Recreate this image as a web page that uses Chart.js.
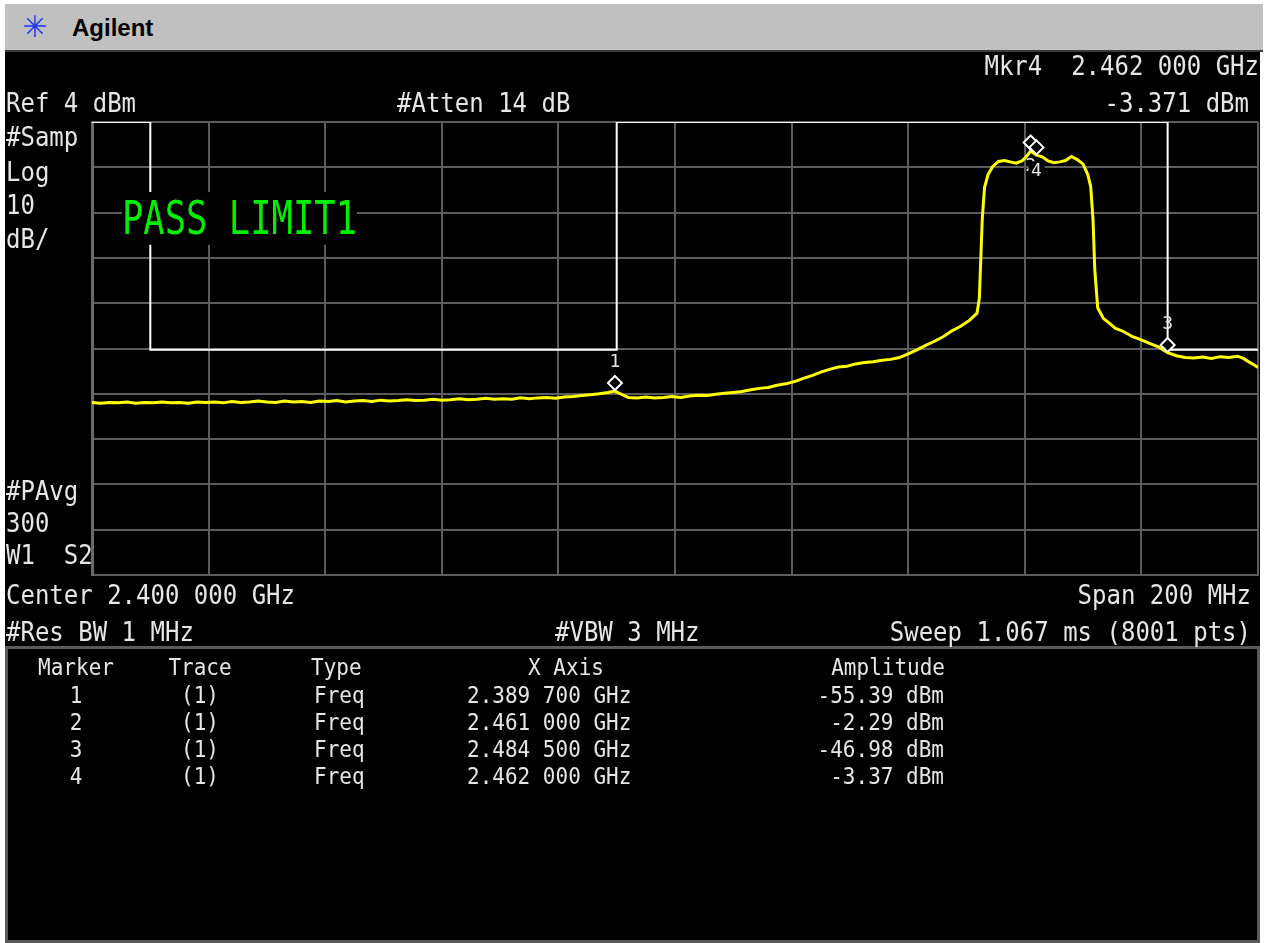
<!DOCTYPE html>
<html>
<head>
<meta charset="utf-8">
<script src="https://cdn.jsdelivr.net/npm/chart.js@4.4.1/dist/chart.umd.min.js"></script>
<style>
body{margin:0;background:#fff;width:1268px;height:943px;overflow:hidden;position:relative;font-family:"DejaVu Sans Mono",monospace;}
#head{position:absolute;left:5px;top:4px;width:1258px;height:46px;background:#c0c0c0;border-bottom:2px solid #3a3a3a;}
#logo{position:absolute;left:17px;top:6px;font-family:"DejaVu Sans";font-size:30px;line-height:34px;color:#1f3df0;}
#brand{position:absolute;left:67px;top:9px;font-family:"Liberation Sans",Arial,sans-serif;font-weight:bold;font-size:24px;line-height:30px;color:#000;}
#screen{position:absolute;left:5px;top:52px;width:1255px;height:891px;background:#000;}
#tbl{position:absolute;left:5px;top:646px;width:1249px;height:291px;border:3px solid #5a5a5a;}
#chart{position:absolute;left:0;top:0;}
.t{position:absolute;color:#e6e6e6;font-size:24px;line-height:28px;white-space:pre;transform:scaleY(1.1);}
.s{position:absolute;color:#e6e6e6;font-size:21px;line-height:26px;white-space:pre;transform:scaleY(1.08);}
#pass{position:absolute;left:122px;top:192px;height:40px;line-height:40px;font-size:35.5px;color:#00f000;background:#000;white-space:pre;transform-origin:top left;transform:scaleY(1.32);}
</style>
</head>
<body>
<div id="head"><div id="logo">✳</div><div id="brand">Agilent</div></div>
<div id="screen"></div>
<div id="tbl"></div>
<canvas id="chart" width="1268" height="943"></canvas>
<div id="pass">PASS LIMIT1</div>
<div id="labels"></div>
<script>
// analyzer settings
var refLevel = 4;      // dBm
var dbPerDiv = 10;
var centerMHz = 2400;
var spanMHz = 200;

// trace 1
var freqMHz = [2300,2301.5,2303,2304.5,2306,2307.5,2309,2310.5,2312,2313.5,2315,2316.5,2318,2319.5,2321,2322.5,2324,2325.5,2327,2328.5,
  2330,2331.5,2333,2334.5,2336,2337.5,2339,2340.5,2342,2343.5,2345,2346.5,2348,2349.5,2351,2352.5,2354,2355.5,2357,2358.5,
  2360,2361.5,2363,2364.5,2366,2367.5,2369,2370.5,2372,2373.5,2375,2376.5,2378,2379.5,2381,2382.5,2384,2385.5,2387,2388.5,
  2389.7,2390.8,2392,2393.5,2395,2396.5,2398,2399.5,2401,2402.5,2404,2405.5,2407,2408.5,2410,2411.5,2413,2414.5,2416,2417.5,
  2419,2420.5,2422,2423.5,2425,2426.5,2428,2429.5,2431,2432.5,2434,2435.5,2437,2438.5,2440,2441.5,2443,2444.5,2446,2447.5,
  2449,2450.5,2451.8,2452.2,2452.4,2452.7,2453.1,2453.7,2454.5,2455.5,2456.5,2457.5,2458.5,2459.5,2460.3,2461,2462,2463,2464,2465,
  2466,2467,2468,2469,2470,2470.8,2471.3,2471.7,2472,2472.5,2473.5,2474.5,2475.5,2477,2478.5,2480,2481.5,2483,2484.5,2486,
  2487.5,2489,2490.5,2492,2493.5,2495,2496.5,2497.5,2498.5,2499.3,2500];
var traceDbm = [-57.9,-58.1,-57.9,-58.0,-57.8,-58.1,-57.9,-58.0,-57.8,-58.0,-57.9,-58.1,-57.8,-57.9,-57.8,-58.0,-57.7,-57.9,-57.8,-57.6,
  -57.8,-57.9,-57.6,-57.8,-57.7,-57.9,-57.6,-57.7,-57.5,-57.8,-57.6,-57.5,-57.7,-57.4,-57.6,-57.5,-57.3,-57.5,-57.4,-57.2,
  -57.4,-57.3,-57.1,-57.3,-57.2,-57.0,-57.2,-57.1,-57.2,-56.9,-57.1,-56.9,-56.8,-57.0,-56.7,-56.6,-56.4,-56.2,-56.0,-55.7,
  -55.4,-56.1,-56.8,-56.9,-56.7,-56.9,-56.8,-56.6,-56.8,-56.5,-56.3,-56.4,-56.1,-55.9,-55.7,-55.5,-55.1,-54.8,-54.6,-54.1,
  -53.8,-53.3,-52.6,-52.0,-51.2,-50.6,-50.1,-49.9,-49.4,-49.1,-48.9,-48.6,-48.4,-48.0,-47.2,-46.3,-45.3,-44.4,-43.4,-42.1,
  -41.1,-39.8,-38.2,-35.0,-28.0,-17.5,-10.4,-7.6,-5.8,-4.7,-4.5,-4.8,-5.1,-4.6,-3.6,-2.4,-3.3,-3.7,-4.6,-5.0,
  -4.8,-4.5,-3.6,-4.3,-5.3,-7.6,-10.2,-17.5,-28.5,-37.0,-39.4,-40.4,-41.5,-42.3,-43.4,-44.1,-44.9,-45.7,-46.9,-47.6,
  -48.0,-48.1,-47.9,-48.2,-47.8,-48.0,-47.7,-48.2,-49.0,-49.6,-50.2];

// limit line LIMIT1
var limitFreqMHz = [2300, 2310, 2310, 2390, 2390, 2484.5, 2484.5, 2500];
var limitDbm = [4, 4, -46.3, -46.3, 4, 4, -46.3, -46.3];

// markers
var markerNames = ['1', '2', '3', '4'];
var markerFreqMHz = [2389.7, 2461.0, 2484.5, 2462.0];
var markerDbm = [-55.39, -2.29, -46.98, -3.371];
var activeMarker = 3;

var startMHz = centerMHz - spanMHz / 2;
var stopMHz = centerMHz + spanMHz / 2;
var bottomDbm = refLevel - 10 * dbPerDiv;

var xGrid = [], yGrid = [];
for (var i = 0; i <= 10; i++) {
  xGrid.push(startMHz + i * spanMHz / 10);
  yGrid.push(bottomDbm + i * dbPerDiv);
}

var traceData = freqMHz.map(function(f, i) { return {x: f, y: traceDbm[i]}; });
var limitData = limitFreqMHz.map(function(f, i) { return {x: f, y: limitDbm[i]}; });

function fmtGHz(mhz) {
  var s = (mhz / 1000).toFixed(6);
  return s.slice(0, 5) + ' ' + s.slice(5) + ' GHz';
}

// marker diamonds + numbers
var markerPlugin = {
  id: 'markers',
  afterDatasetsDraw: function(chart) {
    var ctx = chart.ctx, xs = chart.scales.x, ys = chart.scales.y, area = chart.chartArea;
    ctx.save();
    ctx.beginPath();
    ctx.rect(area.left, area.top, area.right - area.left, area.bottom - area.top);
    ctx.clip();
    ctx.font = '18px "DejaVu Sans Mono"';
    ctx.textAlign = 'center';
    ctx.textBaseline = 'middle';
    for (var i = 0; i < markerNames.length; i++) {
      var px = xs.getPixelForValue(markerFreqMHz[i]);
      var py = ys.getPixelForValue(markerDbm[i]) - 8;
      ctx.beginPath();
      ctx.moveTo(px, py - 7); ctx.lineTo(px + 7, py); ctx.lineTo(px, py + 7); ctx.lineTo(px - 7, py);
      ctx.closePath();
      ctx.fillStyle = '#000'; ctx.fill();
      ctx.strokeStyle = '#fff'; ctx.lineWidth = 2; ctx.stroke();
    }
    for (var j = 0; j < markerNames.length; j++) {
      var qx = xs.getPixelForValue(markerFreqMHz[j]);
      var qy = ys.getPixelForValue(markerDbm[j]) - 8;
      var ly = qy - 21;
      if (ly - 8 < area.top) ly = qy + 24;
      if (j === activeMarker) {
        ctx.fillStyle = '#000';
        ctx.fillRect(qx - 8, ly - 10, 16, 20);
      }
      ctx.fillStyle = '#e6e6e6';
      ctx.fillText(markerNames[j], qx, ly);
    }
    ctx.restore();
  }
};

var gridColor = '#5c5c5c';

new Chart(document.getElementById('chart'), {
  type: 'line',
  data: {
    datasets: [
      {
        label: 'Trace 1',
        data: traceData,
        borderColor: '#ffff00',
        borderWidth: 3,
        pointRadius: 0,
        tension: 0
      },
      {
        label: 'LIMIT1',
        data: limitData,
        borderColor: '#ffffff',
        borderWidth: 2,
        pointRadius: 0,
        tension: 0
      }
    ]
  },
  options: {
    responsive: false,
    animation: false,
    events: [],
    layout: { padding: { left: 92, top: 122, right: 10, bottom: 368 } },
    plugins: { legend: { display: false }, tooltip: { enabled: false } },
    scales: {
      x: {
        type: 'linear',
        min: startMHz,
        max: stopMHz,
        afterBuildTicks: function(s) { s.ticks = xGrid.map(function(v) { return {value: v}; }); },
        ticks: { display: false },
        grid: { color: gridColor, lineWidth: 2, drawTicks: false },
        border: { color: gridColor, width: 2 }
      },
      y: {
        min: bottomDbm,
        max: refLevel,
        afterBuildTicks: function(s) { s.ticks = yGrid.map(function(v) { return {value: v}; }); },
        ticks: { display: false },
        grid: { color: gridColor, lineWidth: 2, drawTicks: false },
        border: { color: '#6a6a6a', width: 3 }
      }
    }
  },
  plugins: [markerPlugin]
});

// screen annotations
var box = document.getElementById('labels');
function put(cls, text, cy, left, right) {
  var d = document.createElement('div');
  d.className = cls;
  d.textContent = text;
  var lh = cls === 't' ? 28 : 26;
  d.style.top = (cy - lh / 2) + 'px';
  if (left !== null) d.style.left = left + 'px';
  if (right !== null) { d.style.right = (1268 - right) + 'px'; d.style.textAlign = 'right'; }
  box.appendChild(d);
  return d;
}
function putCenter(cls, text, cy, cx) {
  var d = put(cls, text, cy, null, null);
  d.style.left = (cx - 100) + 'px';
  d.style.width = '200px';
  d.style.textAlign = 'center';
}

put('t', 'Mkr' + markerNames[activeMarker] + '  ' + fmtGHz(markerFreqMHz[activeMarker]), 66, null, 1259);
put('t', 'Ref ' + refLevel + ' dBm', 103, 6, null);
put('t', '#Atten 14 dB', 103, 397, null);
put('t', markerDbm[activeMarker].toFixed(3) + ' dBm', 103, null, 1249);
put('t', '#Samp', 137, 6, null);
put('t', 'Log', 172, 6, null);
put('t', String(dbPerDiv), 205, 6, null);
put('t', 'dB/', 239, 6, null);
put('t', '#PAvg', 491, 6, null);
put('t', '300', 523, 6, null);
put('t', 'W1  S2', 555, 6, null);
put('t', 'Center ' + fmtGHz(centerMHz), 595, 6, null);
put('t', 'Span ' + spanMHz + ' MHz', 595, null, 1251);
put('t', '#Res BW 1 MHz', 632, 6, null);
put('t', '#VBW 3 MHz', 632, 555, null);
put('t', 'Sweep 1.067 ms (8001 pts)', 632, null, 1251);

// marker table
putCenter('s', 'Marker', 667, 76);
putCenter('s', 'Trace', 667, 200);
put('s', 'Type', 667, 311, null);
putCenter('s', 'X Axis', 667, 566);
put('s', 'Amplitude', 667, null, 945);
for (var k = 0; k < markerNames.length; k++) {
  var cy = 695 + k * 27;
  putCenter('s', markerNames[k], cy, 76);
  putCenter('s', '(1)', cy, 200);
  put('s', 'Freq', cy, 314, null);
  put('s', fmtGHz(markerFreqMHz[k]), cy, 467, null);
  put('s', markerDbm[k].toFixed(2) + ' dBm', cy, null, 944);
}
</script>
</body>
</html>
